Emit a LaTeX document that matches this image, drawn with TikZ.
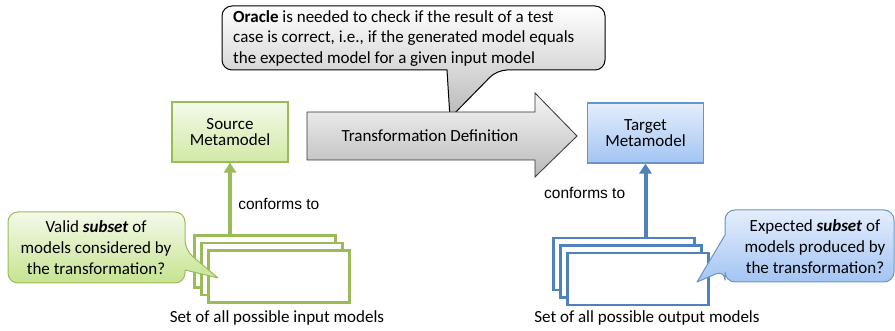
\documentclass[tikz,border=0pt]{standalone}
\usepackage{fontspec}
\setmainfont{Carlito}
\newfontfamily\arialfont{Liberation Sans}
\usetikzlibrary{arrows.meta, backgrounds}

\definecolor{grnline}{HTML}{9BBB59}
\definecolor{grntop}{HTML}{F4FAEA}
\definecolor{grnbot}{HTML}{C6E38F}
\definecolor{bluline}{HTML}{4F81BD}
\definecolor{blutop}{HTML}{E4EEFC}
\definecolor{blubot}{HTML}{A3C4F3}
\definecolor{gratop}{HTML}{F7F7F7}
\definecolor{grabot}{HTML}{B9B9B9}

\begin{document}
\begin{tikzpicture}[
            x = 1pt, y = 1pt, % one unit per pixel
            > = {Triangle[width=12pt, length=10pt]}, % arrow head style
            font = \fontsize{17}{21}\selectfont,
            metabox/.style = {draw, line width=1.2pt, minimum width=116pt,
                minimum height=60pt, align=center,
                font=\fontsize{17}{15.5}\selectfont},
            source meta/.style = {metabox, draw=grnline, top color=grntop, bottom color=grnbot!80},
            target meta/.style = {metabox, draw=bluline!85, top color=blutop, bottom color=blubot},
            model/.style = {draw, fill=white, line width=2.6pt, minimum width=141pt,
                minimum height=52pt},
            green model/.style = {model, draw=grnline},
            blue model/.style = {model, draw=bluline},
            conform/.style = {->, line width=4pt},
            conform label/.style = {font=\arialfont\fontsize{15.5}{18}\selectfont},
            callout/.style = {draw, line width=1pt, line join=round},
            caption/.style = {inner sep=0pt}
        ]

        \useasboundingbox (0,0) rectangle (895,331);

        % metamodels
        \node[source meta] (source) at (230,199) {Source\\Metamodel};
        \node[target meta] (target) at (645.5,198) {Target\\Metamodel};

        % transformation definition
        \path[draw=black!80, line width=0.8pt, top color=gratop, bottom color=grabot]
            (307,219) -- (535,219) -- (535,238) -- (577,195) -- (535,154)
            -- (535,171) -- (307,171) -- cycle;
        \node (trafo) at (430,195) {Transformation Definition};

        % oracle
        \node[align=left, inner sep=0pt, anchor=west, font=\fontsize{17}{20.5}\selectfont]
            (oracle) at (233,292.5) {\textbf{Oracle} is needed to check if the result of a test\\
            case is correct, i.e., if the generated model equals\\
            the expected model for a given input model};
        \begin{scope}[on background layer]
            \path[callout, top color=white, bottom color=grabot]
                (400,325) [rounded corners=10pt] -- (605,325) -- (605,261) -- (497,261)
                [sharp corners] -- (450,213) -- (447,261)
                [rounded corners=10pt] -- (222,261) -- (222,325) -- cycle;
        \end{scope}

        % input models
        \node[green model] (in1) at (265,69.5) {};
        \node[green model] (in2) at ([shift={(7,-7.5)}]in1.center) {};
        \node[green model] (in3) at ([shift={(7,-7.5)}]in2.center) {};
        \draw[conform, draw=grnline, fill=grnline] (source.south |- in1.north) -- (source.south)
            node[conform label, pos=0.42, right=3pt] (confin) {conforms to};
        \node[caption] (incap) at (277,13) {Set of all possible input models};

        % output models
        \node[blue model] (out1) at (624,67) {};
        \node[blue model] (out2) at ([shift={(7,-7.5)}]out1.center) {};
        \node[blue model] (out3) at ([shift={(7,-7.5)}]out2.center) {};
        \draw[conform, draw=bluline, fill=bluline] (target.south |- out1.north) -- (target.south)
            node[conform label, pos=0.6, left=15pt] (confout) {conforms to};
        \node[caption] (outcap) at (647,13) {Set of all possible output models};

        % question callouts
        \path[callout, draw=grnline, top color=grntop, bottom color=grnbot]
            (96,119) [rounded corners=10pt] -- (185,119) -- (185,81)
            [sharp corners] -- (218,53) -- (185,61)
            [rounded corners=10pt] -- (185,48) -- (8,48) -- (8,119) -- cycle;
        \node[align=center] (valid) at (96,83)
            {Valid \textbf{\textit{subset}} of\\models considered by\\the transformation?};

        \path[callout, draw=bluline!85, top color=blutop, bottom color=blubot]
            (810,121) [rounded corners=10pt] -- (894,121) -- (894,49) -- (725,49) -- (725,61)
            [sharp corners] -- (697,49) -- (725,96)
            [rounded corners=10pt] -- (725,121) -- cycle;
        \node[align=center] (expected) at (815,84)
            {Expected \textbf{\textit{subset}} of\\models produced by\\the transformation?};

    \end{tikzpicture}
\end{document}
